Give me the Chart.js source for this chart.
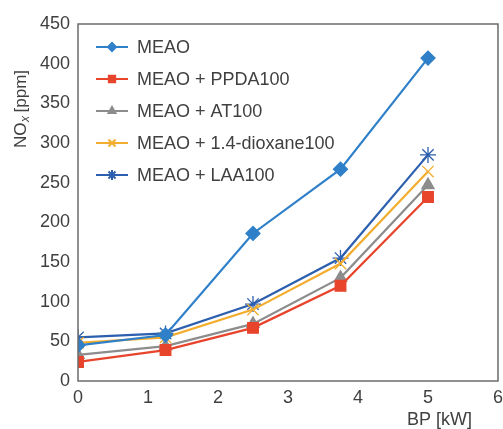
<!DOCTYPE html>
<html>
<head>
<meta charset="utf-8">
<script src="https://cdn.jsdelivr.net/npm/chart.js@4/dist/chart.umd.min.js"></script>
<style>
  html, body { margin: 0; padding: 0; background: #fff; overflow: hidden; }
  #wrap { width: 503px; height: 429px; overflow: hidden; }
</style>
</head>
<body>
<div id="wrap"><canvas id="c" width="509" height="429"></canvas></div>
<script>
const bpKw = [0, 1.25, 2.5, 3.75, 5];
const meao = [45, 58, 186, 267, 407];
const meaoPpda = [24, 39, 67, 120, 232];
const meaoAt = [33, 44, 72, 130, 247];
const meaoDioxane = [48, 55, 90, 148, 264];
const meaoLaa = [55, 60, 97, 155, 285];
const seriesNames = ['MEAO', 'MEAO + PPDA100', 'MEAO + AT100', 'MEAO + 1.4-dioxane100', 'MEAO + LAA100'];
const yTicks = [0, 50, 100, 150, 200, 250, 300, 350, 400, 450];
const xTicks = [0, 1, 2, 3, 4, 5, 6];

const FONT = '"Liberation Sans", Arial, sans-serif';
const TEXT = '#404040';

const styles = [
  { color: '#2f80c9', point: 'rectRot', r: 7 },
  { color: '#e8442c', point: 'rect', r: 7.5 },
  { color: '#8c8c8c', point: 'triangle', r: 7 },
  { color: '#f3ad2e', point: 'crossRot', r: 8 },
  { color: '#2c5fae', point: 'star', r: 8 }
];
const values = [meao, meaoPpda, meaoAt, meaoDioxane, meaoLaa];

const datasets = values.map((v, i) => ({
  label: seriesNames[i],
  data: v.map((y, j) => ({ x: bpKw[j], y })),
  borderColor: styles[i].color,
  backgroundColor: styles[i].color,
  borderWidth: 2.2,
  pointStyle: styles[i].point,
  pointRadius: styles[i].r,
  pointBorderWidth: 1.3,
  tension: 0
}));

// frame, legend inside plot, axis titles with subscript
const decor = {
  id: 'decor',
  afterDraw(chart) {
    const { ctx, chartArea: a } = chart;
    ctx.save();
    ctx.strokeStyle = '#6b6b6b';
    ctx.lineWidth = 1.5;
    ctx.strokeRect(a.left, a.top, a.right - a.left, a.bottom - a.top);

    ctx.font = '18px ' + FONT;
    ctx.textBaseline = 'middle';
    seriesNames.forEach((name, i) => {
      const y = 47 + i * 32;
      const s = styles[i];
      ctx.strokeStyle = s.color;
      ctx.fillStyle = s.color;
      ctx.lineWidth = 2;
      ctx.beginPath();
      ctx.moveTo(96, y);
      ctx.lineTo(128, y);
      ctx.stroke();
      Chart.helpers.drawPoint(ctx, { pointStyle: s.point, radius: s.r - 3, borderWidth: 1.2 }, 112, y);
      ctx.fillStyle = TEXT;
      ctx.textAlign = 'left';
      ctx.fillText(name, 137, y + 1);
    });

    // x title
    ctx.font = '18px ' + FONT;
    ctx.fillStyle = TEXT;
    ctx.textAlign = 'right';
    ctx.fillText('BP [kW]', 472, 420);

    // y title
    ctx.translate(21, 148);
    ctx.rotate(-Math.PI / 2);
    ctx.textAlign = 'left';
    ctx.font = '17px ' + FONT;
    let x = 0;
    ctx.fillText('NO', x, 0);
    x += ctx.measureText('NO').width;
    ctx.font = 'italic 12px ' + FONT;
    ctx.fillText('x', x + 0.5, 5);
    x += ctx.measureText('x').width + 4;
    ctx.font = '17px ' + FONT;
    ctx.fillText('[ppm]', x, 0);
    ctx.restore();
  }
};

new Chart(document.getElementById('c'), {
  type: 'line',
  data: { datasets },
  options: {
    responsive: false,
    animation: false,
    layout: { padding: { top: 24, right: 4, left: 0, bottom: 0 } },
    plugins: { legend: { display: false }, tooltip: { enabled: false } },
    scales: {
      x: {
        type: 'linear',
        min: 0, max: 6,
        afterBuildTicks: (s) => { s.ticks = xTicks.map((v) => ({ value: v })); },
        afterFit: (s) => { s.height = 48; },
        grid: { display: false, drawTicks: false },
        border: { display: false },
        ticks: { color: TEXT, font: { family: FONT, size: 18 }, padding: 6 }
      },
      y: {
        min: 0, max: 450,
        afterBuildTicks: (s) => { s.ticks = yTicks.map((v) => ({ value: v })); },
        afterFit: (s) => { s.width = 78; },
        grid: { display: false, drawTicks: false },
        border: { display: false },
        ticks: { color: TEXT, font: { family: FONT, size: 18 }, padding: 8 }
      }
    }
  },
  plugins: [decor]
});
</script>
</body>
</html>
